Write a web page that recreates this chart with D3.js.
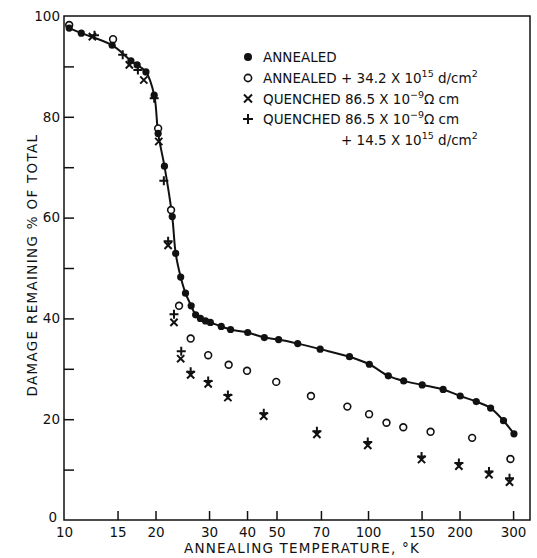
<!DOCTYPE html>
<html><head><meta charset="utf-8">
<script src="https://cdn.jsdelivr.net/npm/d3@7/dist/d3.min.js"></script>
<style>
body{margin:0;background:#fff;}
text{font-family:"DejaVu Sans",sans-serif;fill:#111;}
</style></head>
<body><svg id="c" width="537" height="558"></svg>
<script>
// ---- data ----
const annealedT = [10.4,11.4,14.4,16.6,17.4,18.6,19.8,20.4,21.4,22.7,23.3,24.2,25.1,26.2,27.1,28.1,29.2,30.3,32.9,35.3,40.2,45.6,50.8,58.7,69.6,86.9,101,116.6,131,150.7,176.6,201,227,253,279,302];
const annealedV = [97.6,96.6,94.2,91.1,90.3,88.9,84.3,76.7,70.2,60.2,52.9,48.2,45.0,42.5,40.7,40.0,39.5,39.2,38.4,37.8,37.2,36.2,35.8,35.0,33.9,32.4,30.9,28.6,27.6,26.8,25.9,24.6,23.5,22.2,19.7,17.1];
const irradT = [10.4,14.5,20.4,22.5,23.9,26.1,29.8,34.8,40.0,49.9,64.9,85.5,100.8,115,130.6,160.6,220,294];
const irradV = [98.2,95.4,77.7,61.5,42.5,36.0,32.7,30.8,29.6,27.4,24.6,22.5,21.0,19.3,18.4,17.5,16.3,12.1];
const quenchT = [12.4,16.4,18.3,20.5,22.0,23.0,24.2,26.1,29.8,34.6,45.4,67.9,99.8,150,199,250,292];
const quenchV = [95.9,90.3,87.3,75.1,54.5,39.2,32.0,28.8,27.0,24.3,20.6,17.0,14.8,12.0,10.7,9.0,7.5];
const quenchIrrT = [12.6,15.6,17.5,19.8,21.3,22.0,23.0,24.3,26.1,29.8,34.6,45.4,67.9,99.8,150,199,250,292];
const quenchIrrV = [96.2,92.3,89.3,83.7,67.3,55.3,40.8,33.5,29.4,27.6,24.8,21.2,17.6,15.5,12.6,11.3,9.6,8.3];
const xTickValues = [10,15,20,30,40,50,70,100,150,200,300];
const yTickValues = [0,10,20,30,40,50,60,70,80,90,100];
const yLabelValues = [0,20,40,60,80,100];
const xTitle = "ANNEALING TEMPERATURE, °K";
const yTitle = "DAMAGE REMAINING % OF TOTAL";

// ---- layout ----
const L = 64, R = 530, T = 16, B = 520;
const svg = d3.select("#c");
const x = d3.scaleLog().domain([10, 341]).range([L, R]);
const y = d3.scaleLinear().domain([0, 100]).range([B, T]);

// frame
svg.append("rect").attr("x", L).attr("y", T).attr("width", R - L).attr("height", B - T)
  .attr("fill", "none").attr("stroke", "#111").attr("stroke-width", 1.5);

// x axis
const xa = svg.append("g").attr("transform", `translate(0,${B})`)
  .call(d3.axisBottom(x).tickValues(xTickValues).tickFormat(d => String(d)).tickSize(-9).tickPadding(7));
xa.select(".domain").remove();
xa.selectAll(".tick line").attr("stroke", "#111").attr("stroke-width", 1.5).attr("opacity", d => d === 10 ? 0 : 1);
xa.selectAll(".tick text").attr("font-size", 13.5).attr("font-family", "DejaVu Sans").attr("fill", "#111");

// y axis
const ya = svg.append("g").attr("transform", `translate(${L},0)`)
  .call(d3.axisLeft(y).tickValues(yTickValues).tickFormat(d => yLabelValues.includes(d) ? String(d) : "").tickSize(-10).tickPadding(4));
ya.select(".domain").remove();
ya.selectAll(".tick line").attr("stroke", "#111").attr("stroke-width", 1.5).attr("opacity", d => (d === 0 || d === 100) ? 0 : 1);
ya.selectAll(".tick text").attr("font-size", 13.5).attr("font-family", "DejaVu Sans").attr("fill", "#111");
ya.selectAll(".tick").filter(d => !yLabelValues.includes(d)).select("text").remove();
ya.selectAll(".tick").filter(d => d === 0).select("text").attr("x", -7).attr("dy", "0.1em");

// titles
svg.append("text").attr("x", 302).attr("y", 553).attr("text-anchor", "middle")
  .attr("font-size", 13.5).attr("letter-spacing", 1.2).text(xTitle);
svg.append("text").attr("transform", "translate(37,265) rotate(-90)").attr("text-anchor", "middle")
  .attr("font-size", 13.5).attr("letter-spacing", 1.3).text(yTitle);

// curve through annealed points
const annealed = annealedT.map((t, i) => [t, annealedV[i]]);
svg.append("path").datum(annealed)
  .attr("d", d3.line().x(d => x(d[0])).y(d => y(d[1])).curve(d3.curveCatmullRom.alpha(0.5)))
  .attr("fill", "none").attr("stroke", "#111").attr("stroke-width", 2);

// markers
const drawCross = (g, px, py, s) => {
  g.append("path").attr("d", `M${px - s},${py - s}L${px + s},${py + s}M${px - s},${py + s}L${px + s},${py - s}`)
    .attr("stroke", "#111").attr("stroke-width", 2).attr("fill", "none");
};
const drawPlus = (g, px, py, s) => {
  g.append("path").attr("d", `M${px - s},${py}L${px + s},${py}M${px},${py - s}L${px},${py + s}`)
    .attr("stroke", "#111").attr("stroke-width", 2).attr("fill", "none");
};
const mk = svg.append("g");
irradT.forEach((t, i) => mk.append("circle").attr("cx", x(t)).attr("cy", y(irradV[i])).attr("r", 3.4)
  .attr("fill", "#fff").attr("stroke", "#111").attr("stroke-width", 1.6));
quenchT.forEach((t, i) => drawCross(mk, x(t), y(quenchV[i]), 3.6));
quenchIrrT.forEach((t, i) => drawPlus(mk, x(t), y(quenchIrrV[i]), 4.5));
annealedT.forEach((t, i) => mk.append("circle").attr("cx", x(t)).attr("cy", y(annealedV[i])).attr("r", 3.6).attr("fill", "#111"));

// legend
const lg = svg.append("g");
const lx = 248, tx = 263, fs = 13.5;
const rows = [57, 78, 98.5, 119, 139.5];
lg.append("circle").attr("cx", lx).attr("cy", rows[0]).attr("r", 4).attr("fill", "#111");
lg.append("circle").attr("cx", lx).attr("cy", rows[1]).attr("r", 3.6).attr("fill", "#fff").attr("stroke", "#111").attr("stroke-width", 1.6);
drawCross(lg, lx, rows[2], 4);
drawPlus(lg, lx, rows[3], 5);
const addText = (xx, yy, parts) => {
  const t = lg.append("text").attr("x", xx).attr("y", yy + 5).attr("font-size", fs);
  let prevSup = false;
  parts.forEach(p => {
    const ts = t.append("tspan").text(p.s);
    if (p.sup) { ts.attr("dy", -6).attr("font-size", 9.5); prevSup = true; }
    else { if (prevSup) ts.attr("dy", 6); prevSup = false; }
  });
};
addText(tx, rows[0], [{s: "ANNEALED"}]);
addText(tx, rows[1], [{s: "ANNEALED + 34.2 X 10"}, {s: "15", sup: true}, {s: " d/cm"}, {s: "2", sup: true}]);
addText(tx, rows[2], [{s: "QUENCHED 86.5 X 10"}, {s: "−9", sup: true}, {s: "Ω  cm"}]);
addText(tx, rows[3], [{s: "QUENCHED 86.5 X 10"}, {s: "−9", sup: true}, {s: "Ω  cm"}]);
addText(341, rows[4], [{s: "+ 14.5 X 10"}, {s: "15", sup: true}, {s: " d/cm"}, {s: "2", sup: true}]);
</script></body></html>
